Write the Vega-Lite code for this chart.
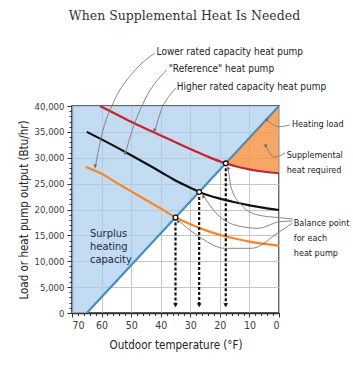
{
  "$schema": "https://vega.github.io/schema/vega-lite/v6.json",
  "width": 207,
  "height": 207,
  "autosize": "none",
  "padding": {"left": 72, "top": 106, "right": 74, "bottom": 53},
  "background": "white",
  "config": {
    "view": {"stroke": "#333333", "strokeWidth": 1.5},
    "font": "'Liberation Sans Narrow', 'DejaVu Sans Condensed', 'Roboto Condensed', Roboto, sans-serif",
    "axis": {
      "labelFont": "'Liberation Sans Narrow', 'DejaVu Sans Condensed', 'Roboto Condensed', Roboto, sans-serif",
      "titleFont": "'Liberation Sans Narrow', 'DejaVu Sans Condensed', 'Roboto Condensed', Roboto, sans-serif",
      "labelColor": "#3a3a3a",
      "titleColor": "#222222",
      "titleFontWeight": "normal",
      "domainColor": "#333333",
      "domainWidth": 1.5,
      "tickColor": "#333333",
      "gridColor": "#c4c4c4",
      "gridWidth": 1
    }
  },
  "title": {
    "text": "When Supplemental Heat Is Needed",
    "font": "DejaVu Serif",
    "fontSize": 12.5,
    "fontWeight": "normal",
    "color": "#333333",
    "anchor": "middle",
    "frame": "group",
    "dx": 9,
    "offset": 24
  },
  "datasets": {
    "curves": [
      {"series": "Heating load", "T": 65, "btu": 0},
      {"series": "Heating load", "T": 0, "btu": 40000},
      {"series": "Higher rated capacity", "T": 60.5, "btu": 40000},
      {"series": "Higher rated capacity", "T": 55, "btu": 38400},
      {"series": "Higher rated capacity", "T": 50, "btu": 36950},
      {"series": "Higher rated capacity", "T": 45, "btu": 35600},
      {"series": "Higher rated capacity", "T": 40, "btu": 34300},
      {"series": "Higher rated capacity", "T": 35, "btu": 33000},
      {"series": "Higher rated capacity", "T": 30, "btu": 31700},
      {"series": "Higher rated capacity", "T": 25, "btu": 30450},
      {"series": "Higher rated capacity", "T": 20, "btu": 29300},
      {"series": "Higher rated capacity", "T": 18, "btu": 28920},
      {"series": "Higher rated capacity", "T": 15, "btu": 28400},
      {"series": "Higher rated capacity", "T": 10, "btu": 27750},
      {"series": "Higher rated capacity", "T": 5, "btu": 27300},
      {"series": "Higher rated capacity", "T": 0, "btu": 27000},
      {"series": "Reference", "T": 65, "btu": 35000},
      {"series": "Reference", "T": 60, "btu": 33550},
      {"series": "Reference", "T": 55, "btu": 32050},
      {"series": "Reference", "T": 50, "btu": 30500},
      {"series": "Reference", "T": 45, "btu": 28900},
      {"series": "Reference", "T": 40, "btu": 27250},
      {"series": "Reference", "T": 35, "btu": 25600},
      {"series": "Reference", "T": 30, "btu": 24200},
      {"series": "Reference", "T": 27, "btu": 23400},
      {"series": "Reference", "T": 20, "btu": 22100},
      {"series": "Reference", "T": 15, "btu": 21400},
      {"series": "Reference", "T": 10, "btu": 20800},
      {"series": "Reference", "T": 5, "btu": 20300},
      {"series": "Reference", "T": 0, "btu": 19900},
      {"series": "Lower rated capacity", "T": 65.3, "btu": 28200},
      {"series": "Lower rated capacity", "T": 60, "btu": 26900},
      {"series": "Lower rated capacity", "T": 55, "btu": 25200},
      {"series": "Lower rated capacity", "T": 50, "btu": 23500},
      {"series": "Lower rated capacity", "T": 45, "btu": 21850},
      {"series": "Lower rated capacity", "T": 40, "btu": 20200},
      {"series": "Lower rated capacity", "T": 35, "btu": 18500},
      {"series": "Lower rated capacity", "T": 30, "btu": 17150},
      {"series": "Lower rated capacity", "T": 27, "btu": 16450},
      {"series": "Lower rated capacity", "T": 20, "btu": 15100},
      {"series": "Lower rated capacity", "T": 15, "btu": 14400},
      {"series": "Lower rated capacity", "T": 10, "btu": 13800},
      {"series": "Lower rated capacity", "T": 5, "btu": 13350},
      {"series": "Lower rated capacity", "T": 0, "btu": 13000}
    ],
    "surplus": [
      {"T": 70, "lo": 0, "hi": 40000},
      {"T": 65, "lo": 0, "hi": 40000},
      {"T": 0, "lo": 40000, "hi": 40000}
    ],
    "supplemental": [
      {"T": 18, "lo": 28920, "hi": 28923},
      {"T": 15, "lo": 28400, "hi": 30769},
      {"T": 10, "lo": 27750, "hi": 33846},
      {"T": 5, "lo": 27300, "hi": 36923},
      {"T": 0, "lo": 27000, "hi": 40000}
    ],
    "balance": [
      {"pump": "Higher rated capacity", "T": 18, "btu": 28920, "foot": 1500},
      {"pump": "Reference", "T": 27, "btu": 23385, "foot": 1500},
      {"pump": "Lower rated capacity", "T": 35, "btu": 18460, "foot": 1500}
    ],
    "leaders": [
      {"id": "lower", "k": 0, "T": 42.0, "btu": 50240},
      {"id": "lower", "k": 1, "T": 49.5, "btu": 46380},
      {"id": "lower", "k": 2, "T": 55.6, "btu": 41160},
      {"id": "lower", "k": 3, "T": 60.2, "btu": 33760},
      {"id": "lower", "k": 4, "T": 62.2, "btu": 27960},
      {"id": "reference", "k": 0, "T": 38.0, "btu": 46960},
      {"id": "reference", "k": 1, "T": 45.4, "btu": 41160},
      {"id": "reference", "k": 2, "T": 49.8, "btu": 35030},
      {"id": "reference", "k": 3, "T": 52.1, "btu": 30530},
      {"id": "higher", "k": 0, "T": 34.9, "btu": 43480},
      {"id": "higher", "k": 1, "T": 38.1, "btu": 41160},
      {"id": "higher", "k": 2, "T": 39.1, "btu": 40190},
      {"id": "higher", "k": 3, "T": 42.1, "btu": 34920},
      {"id": "load", "k": 0, "T": -3.6, "btu": 36330},
      {"id": "load", "k": 1, "T": 0.0, "btu": 36000},
      {"id": "load", "k": 2, "T": 4.1, "btu": 37300},
      {"id": "supp", "k": 0, "T": -2.1, "btu": 30920},
      {"id": "supp", "k": 1, "T": 1.5, "btu": 30150},
      {"id": "supp", "k": 2, "T": 4.5, "btu": 32270},
      {"id": "bp1", "k": 0, "T": 17.25, "btu": 28270},
      {"id": "bp1", "k": 1, "T": 16.1, "btu": 24100},
      {"id": "bp1", "k": 2, "T": 12.7, "btu": 20870},
      {"id": "bp1", "k": 3, "T": 7.1, "btu": 18940},
      {"id": "bp1", "k": 4, "T": -0.2, "btu": 18420},
      {"id": "bp1", "k": 5, "T": -4.6, "btu": 18160},
      {"id": "bp2", "k": 0, "T": 25.7, "btu": 22800},
      {"id": "bp2", "k": 1, "T": 21.7, "btu": 19580},
      {"id": "bp2", "k": 2, "T": 14.9, "btu": 17000},
      {"id": "bp2", "k": 3, "T": 7.1, "btu": 16370},
      {"id": "bp2", "k": 4, "T": -0.2, "btu": 17640},
      {"id": "bp2", "k": 5, "T": -4.6, "btu": 17780},
      {"id": "bp3", "k": 0, "T": 34.2, "btu": 17970},
      {"id": "bp3", "k": 1, "T": 26.2, "btu": 14430},
      {"id": "bp3", "k": 2, "T": 18.4, "btu": 12500},
      {"id": "bp3", "k": 3, "T": 9.3, "btu": 12500},
      {"id": "bp3", "k": 4, "T": -0.2, "btu": 15710},
      {"id": "bp3", "k": 5, "T": -4.6, "btu": 17390}
    ],
    "tips": [
      {"dir": "down", "T": 62.2, "btu": 28400},
      {"dir": "down", "T": 52.1, "btu": 30900},
      {"dir": "down", "T": 42.1, "btu": 35300},
      {"dir": "upleft", "T": 17.25, "btu": 28000},
      {"dir": "upleft", "T": 25.7, "btu": 22550},
      {"dir": "upleft", "T": 34.2, "btu": 17750},
      {"dir": "left", "T": 4.3, "btu": 37400},
      {"dir": "left", "T": 4.7, "btu": 32400}
    ],
    "notes": [
      {"group": "top", "label": "Lower rated capacity heat pump", "T": 41.4, "btu": 50435},
      {"group": "top", "label": "\"Reference\" heat pump", "T": 37.3, "btu": 47150},
      {"group": "top", "label": "Higher rated capacity heat pump", "T": 34.6, "btu": 43670},
      {"group": "side", "label": "Heating load", "T": -4.4, "btu": 36460},
      {"group": "side", "label": "Supplemental\nheat required", "T": -2.6, "btu": 30530},
      {"group": "side", "label": "Balance point\nfor each\nheat pump", "T": -5.0, "btu": 17350},
      {"group": "surplus", "label": "Surplus\nheating\ncapacity", "T": 63.9, "btu": 15320}
    ]
  },
  "layer": [
    {
      "layer": [
        {
          "data": {"name": "surplus"},
          "mark": {"type": "area", "color": "#abcdeb", "opacity": 0.7},
          "encoding": {
            "x": {
              "field": "T", "type": "quantitative",
              "scale": {"domain": [0, 70], "reverse": true, "nice": false, "zero": false},
              "axis": {
                "orient": "bottom",
                "tickCount": 7,
                "format": ".0f",
                "labelOverlap": false,
                "grid": true,
                "tickSize": 4,
                "labelFontSize": 10.5,
                "labelPadding": 3,
                "title": "Outdoor temperature (°F)",
                "titleFontSize": 11.5,
                "titlePadding": 9
              }
            },
            "y": {
              "field": "lo", "type": "quantitative",
              "scale": {"domain": [0, 40000], "nice": false},
              "axis": {
                "orient": "left",
                "tickCount": 8,
                "format": ",.0f",
                "labelOverlap": false,
                "grid": true,
                "tickSize": 5,
                "labelFontSize": 9.5,
                "labelPadding": 3,
                "title": "Load or heat pump output (Btu/hr)",
                "titleFontSize": 11.5,
                "titlePadding": 5
              }
            },
            "y2": {"field": "hi"}
          }
        },
        {
          "data": {"name": "supplemental"},
          "mark": {"type": "area", "color": "#f4964a", "opacity": 0.85, "interpolate": "monotone"},
          "encoding": {
            "x": {"field": "T", "type": "quantitative"},
            "y": {"field": "lo", "type": "quantitative"},
            "y2": {"field": "hi"}
          }
        },
        {
          "data": {"name": "curves"},
          "mark": {"type": "line", "strokeWidth": 2.2, "interpolate": "monotone", "clip": true},
          "encoding": {
            "x": {"field": "T", "type": "quantitative"},
            "y": {"field": "btu", "type": "quantitative"},
            "color": {
              "field": "series", "type": "nominal", "legend": null,
              "scale": {
                "domain": ["Heating load", "Higher rated capacity", "Reference", "Lower rated capacity"],
                "range": ["#3b8ed0", "#c9222e", "#111111", "#f5872a"]
              }
            }
          }
        },
        {
          "data": {"name": "balance"},
          "mark": {"type": "rule", "color": "#111111", "strokeWidth": 2.2, "strokeDash": [3, 2]},
          "encoding": {
            "x": {"field": "T", "type": "quantitative"},
            "y": {"field": "btu", "type": "quantitative"},
            "y2": {"field": "foot"}
          }
        },
        {
          "data": {"name": "balance"},
          "mark": {"type": "point", "shape": "triangle-down", "filled": true, "color": "#111111", "size": 22, "opacity": 1},
          "encoding": {
            "x": {"field": "T", "type": "quantitative"},
            "y": {"field": "foot", "type": "quantitative"}
          }
        },
        {
          "data": {"name": "leaders"},
          "mark": {"type": "line", "color": "#7a7a7a", "strokeWidth": 0.9, "interpolate": "monotone", "clip": false},
          "encoding": {
            "x": {"field": "T", "type": "quantitative"},
            "y": {"field": "btu", "type": "quantitative"},
            "detail": {"field": "id"},
            "order": {"field": "k"}
          }
        },
        {
          "data": {"name": "tips"},
          "transform": [{"filter": "datum.dir === 'down'"}],
          "mark": {"type": "point", "shape": "triangle-down", "filled": true, "color": "#666666", "size": 14, "angle": 15, "opacity": 1},
          "encoding": {
            "x": {"field": "T", "type": "quantitative"},
            "y": {"field": "btu", "type": "quantitative"}
          }
        },
        {
          "data": {"name": "tips"},
          "transform": [{"filter": "datum.dir === 'upleft'"}],
          "mark": {"type": "point", "shape": "triangle-up", "filled": true, "color": "#666666", "size": 14, "angle": -35, "opacity": 1},
          "encoding": {
            "x": {"field": "T", "type": "quantitative"},
            "y": {"field": "btu", "type": "quantitative"}
          }
        },
        {
          "data": {"name": "tips"},
          "transform": [{"filter": "datum.dir === 'left'"}],
          "mark": {"type": "point", "shape": "triangle-left", "filled": true, "color": "#666666", "size": 14, "angle": 20, "opacity": 1},
          "encoding": {
            "x": {"field": "T", "type": "quantitative"},
            "y": {"field": "btu", "type": "quantitative"}
          }
        },
        {
          "data": {"name": "balance"},
          "mark": {"type": "point", "filled": true, "fill": "white", "stroke": "#111111", "strokeWidth": 1.3, "size": 22, "opacity": 1},
          "encoding": {
            "x": {"field": "T", "type": "quantitative"},
            "y": {"field": "btu", "type": "quantitative"}
          }
        },
        {
          "data": {"name": "notes"},
          "transform": [{"filter": "datum.group === 'top'"}],
          "mark": {"type": "text", "align": "left", "baseline": "middle", "fontSize": 10, "color": "#222222"},
          "encoding": {
            "x": {"field": "T", "type": "quantitative"},
            "y": {"field": "btu", "type": "quantitative"},
            "text": {"field": "label"}
          }
        },
        {
          "data": {"name": "notes"},
          "transform": [{"filter": "datum.group === 'side'"}],
          "mark": {"type": "text", "align": "left", "baseline": "middle", "fontSize": 9, "lineBreak": "\n", "lineHeight": 15, "color": "#222222"},
          "encoding": {
            "x": {"field": "T", "type": "quantitative"},
            "y": {"field": "btu", "type": "quantitative"},
            "text": {"field": "label"}
          }
        },
        {
          "data": {"name": "notes"},
          "transform": [{"filter": "datum.group === 'surplus'"}],
          "mark": {"type": "text", "align": "left", "baseline": "middle", "fontSize": 11, "lineBreak": "\n", "lineHeight": 13, "color": "#1c2a3c"},
          "encoding": {
            "x": {"field": "T", "type": "quantitative"},
            "y": {"field": "btu", "type": "quantitative"},
            "text": {"field": "label"}
          }
        }
      ]
    },
    {
      "data": {"name": "curves"},
      "transform": [{"filter": "datum.series === 'Heating load'"}],
      "mark": {"type": "line", "opacity": 0},
      "encoding": {
        "x": {
          "field": "T", "type": "quantitative",
          "axis": {
            "orient": "bottom",
            "tickCount": 35,
            "labels": false, "grid": false, "domain": false, "tickSize": 2.5, "title": null
          }
        },
        "y": {
          "field": "btu", "type": "quantitative",
          "axis": {
            "orient": "left",
            "tickCount": 40,
            "labels": false, "grid": false, "domain": false, "tickSize": 3, "title": null
          }
        }
      }
    }
  ],
  "resolve": {"axis": {"x": "independent", "y": "independent"}}
}
